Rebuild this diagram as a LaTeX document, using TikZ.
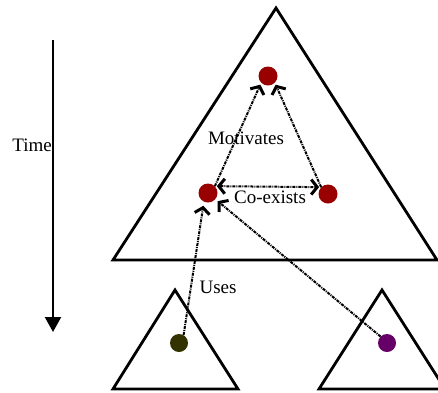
\documentclass[tikz,border=0pt]{standalone}
\usepackage{fontspec}
\setmainfont{Liberation Serif}
\usetikzlibrary{arrows.meta}
\definecolor{dotred}{HTML}{990000}
\definecolor{dotolive}{HTML}{333300}
\definecolor{dotpurple}{HTML}{660066}
\begin{document}
\begin{tikzpicture}[x=1pt,y=-1pt,
  tri/.style={draw=black,line width=2.8pt,line join=miter},
  dot/.style={circle,inner sep=0pt,minimum size=19pt,draw=none},
  rel/.style={line width=2pt,dash pattern=on 3pt off 1pt on 1pt off 1pt},
  >={Straight Barb[length=6pt,width=15pt,line width=3pt]},
  lbl/.style={font=\fontsize{19}{22}\selectfont,inner sep=0pt},
  timeline/.style={line width=2.2pt,-{Triangle[length=15pt,width=16pt]}}
]
\useasboundingbox (0,0) rectangle (438,392);
\clip (0,0) rectangle (438,392);
% triangles
\draw[tri] (276,8) -- (437,260) -- (113,260) -- cycle;
\draw[tri] (175,290) -- (238,389) -- (113,389) -- cycle;
\draw[tri] (382,290) -- (445,389) -- (319,389) -- cycle;
% dots
\node[dot,fill=dotred] (top) at (268,76) {};
\node[dot,fill=dotred] (left) at (208,193) {};
\node[dot,fill=dotred] (right) at (328,194) {};
\node[dot,fill=dotolive,minimum size=18pt] (olive) at (179,343) {};
\node[dot,fill=dotpurple,minimum size=18pt] (purple) at (387,343) {};
% time axis
\coordinate (t1) at (53,40);
\coordinate (t2) at (53,332);
\draw[timeline] (t1) -- (t2);
\node[lbl,anchor=east] (time) at (52,145) {Time};
% relations
\draw[rel,->,shorten >=2pt] (left.45) -- (top.225);
\draw[rel,->,shorten >=2pt] (right.135) -- (top.-45);
\draw[rel,<->,shorten <=2pt,shorten >=2pt] (left.45) -- (right.135);
\draw[rel,->,shorten >=4pt] (olive.60) -- (left.245);
\draw[rel,->,shorten >=3pt] (purple.135) -- (left.-40);
% labels
\node[lbl] (motiv) at (246,138) {Motivates};
\node[lbl] (coex) at (270,197) {Co-exists};
\node[lbl] (uses) at (218,287) {Uses};
\end{tikzpicture}
\end{document}
